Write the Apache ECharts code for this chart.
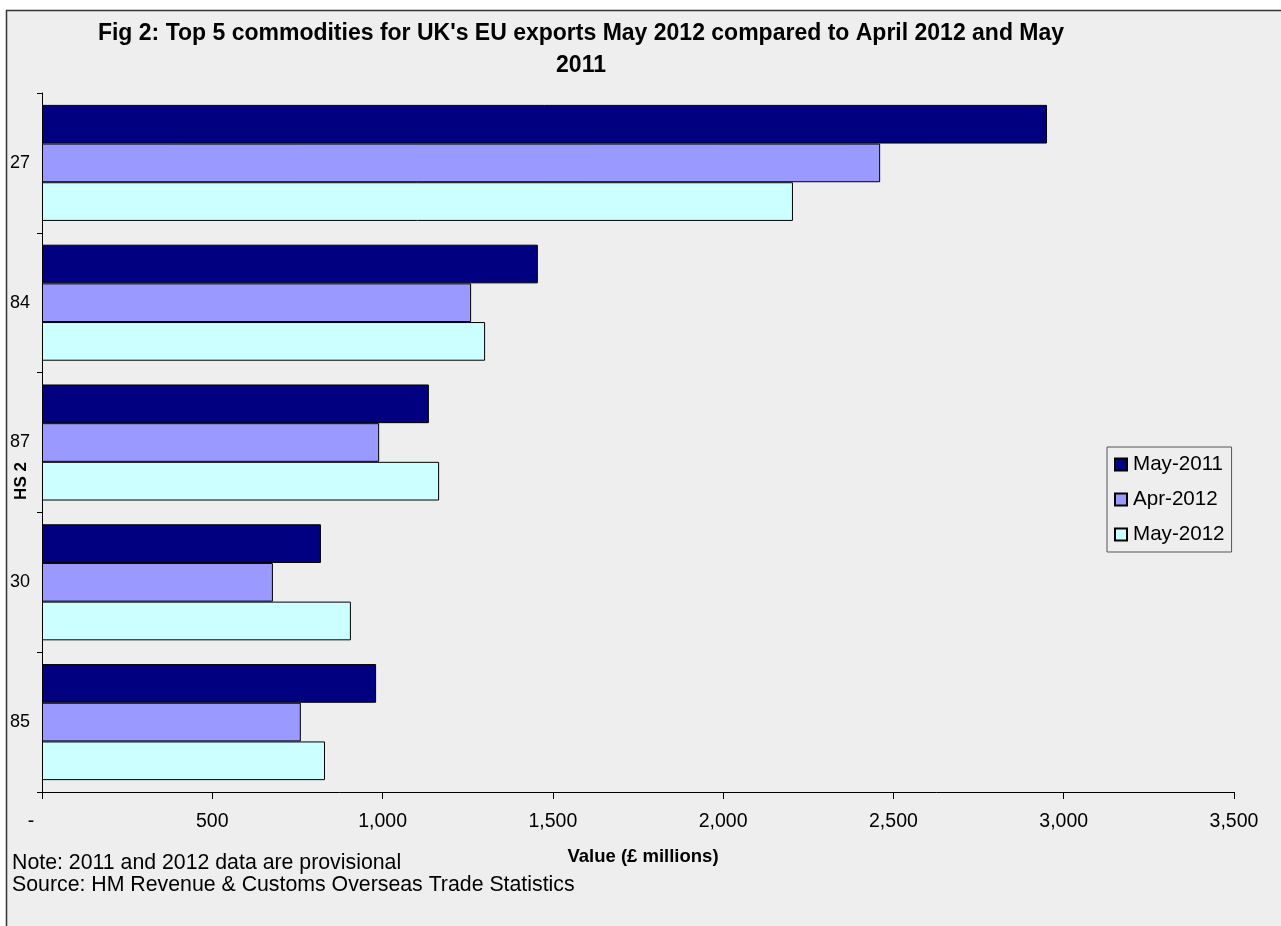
<!DOCTYPE html>
<html>
<head>
<meta charset="utf-8">
<script src="https://cdn.jsdelivr.net/npm/echarts@6/dist/echarts.min.js"></script>
<style>
html,body{margin:0;padding:0;background:#fff;}
#chart{width:1281px;height:926px;}
</style>
</head>
<body>
<div id="chart"></div>
<script>
const categories = ['27', '84', '87', '30', '85'];
const seriesNames = ['May-2011', 'Apr-2012', 'May-2012'];
const may2011 = [2951, 1456, 1136, 819, 981];
const apr2012 = [2461, 1260, 990, 678, 760];
const may2012 = [2205, 1301, 1166, 907, 831];
const xTicks = { min: 0, max: 3500, interval: 500 };
const titleLines = ["Fig 2: Top 5 commodities for UK's EU exports May 2012 compared to April 2012 and May", '2011'];
const yAxisTitle = 'HS 2';
const xAxisTitle = 'Value (£ millions)';
const notes = ['Note: 2011 and 2012 data are provisional', 'Source: HM Revenue & Customs Overseas Trade Statistics'];

const FONT = '"Liberation Sans", Arial, sans-serif';
const colors = ['#000080', '#9999FF', '#CCFFFF'];
const values = [may2011, apr2012, may2012];

const chart = echarts.init(document.getElementById('chart'), null, { renderer: 'canvas' });
chart.setOption({
  backgroundColor: '#ffffff',
  animation: false,
  textStyle: { fontFamily: FONT },
  graphic: [
    { type: 'rect', z: -100, silent: true,
      shape: { x: 6.5, y: 10.5, width: 1290, height: 930 },
      style: { fill: '#eeeeee', stroke: '#333333', lineWidth: 1.5 } },
    { type: 'text', x: 581, y: 34, style: { text: titleLines[0], font: 'bold 23px ' + FONT, fill: '#000', textAlign: 'center', textVerticalAlign: 'middle' } },
    { type: 'text', x: 581, y: 66, style: { text: titleLines[1], font: 'bold 23px ' + FONT, fill: '#000', textAlign: 'center', textVerticalAlign: 'middle' } },
    { type: 'text', x: 21, y: 481, rotation: Math.PI / 2, style: { text: yAxisTitle, font: 'bold 17px ' + FONT, fill: '#000', textAlign: 'center', textVerticalAlign: 'middle' } },
    { type: 'text', x: 643, y: 857, style: { text: xAxisTitle, font: 'bold 18.5px ' + FONT, fill: '#000', textAlign: 'center', textVerticalAlign: 'middle' } },
    { type: 'text', x: 12, y: 863, style: { text: notes[0], font: '21.3px ' + FONT, fill: '#000', textAlign: 'left', textVerticalAlign: 'middle' } },
    { type: 'text', x: 12, y: 885, style: { text: notes[1], font: '21.3px ' + FONT, fill: '#000', textAlign: 'left', textVerticalAlign: 'middle' } }
  ],
  legend: {
    orient: 'vertical',
    left: 1107, top: 447,
    padding: [7, 7, 7, 7],
    itemGap: 14,
    itemWidth: 12, itemHeight: 12,
    icon: 'rect',
    borderColor: '#555555', borderWidth: 1,
    backgroundColor: '#eeeeee',
    textStyle: { fontSize: 20.6, lineHeight: 20, color: '#000', fontFamily: FONT, padding: [0, 0, 0, 1] },
    data: seriesNames
  },
  grid: { left: 42, right: 47, top: 93, bottom: 134, containLabel: false },
  xAxis: {
    type: 'value',
    min: xTicks.min, max: xTicks.max, interval: xTicks.interval,
    splitLine: { show: false },
    axisLine: { show: true, lineStyle: { color: '#000', width: 1 } },
    axisTick: { show: true, length: 7, lineStyle: { color: '#000' } },
    axisLabel: {
      fontSize: 19.5, color: '#000', margin: 20, fontFamily: FONT,
      formatter: v => v === 0 ? '{z|-}' : v.toLocaleString('en-US'),
      rich: { z: { fontSize: 19.5, color: '#000', padding: [0, 22, 0, 0], fontFamily: FONT } }
    }
  },
  yAxis: {
    type: 'category',
    inverse: true,
    data: categories,
    axisLine: { show: true, lineStyle: { color: '#000', width: 1 } },
    axisTick: { show: true, length: 5, lineStyle: { color: '#000' } },
    axisLabel: { fontSize: 18, color: '#000', margin: 12, fontFamily: FONT }
  },
  series: seriesNames.map((name, i) => ({
    name, type: 'bar',
    data: values[i],
    barCategoryGap: '17%', barGap: '0%',
    itemStyle: { color: colors[i], borderColor: '#000', borderWidth: 1 }
  }))
});
</script>
</body>
</html>
